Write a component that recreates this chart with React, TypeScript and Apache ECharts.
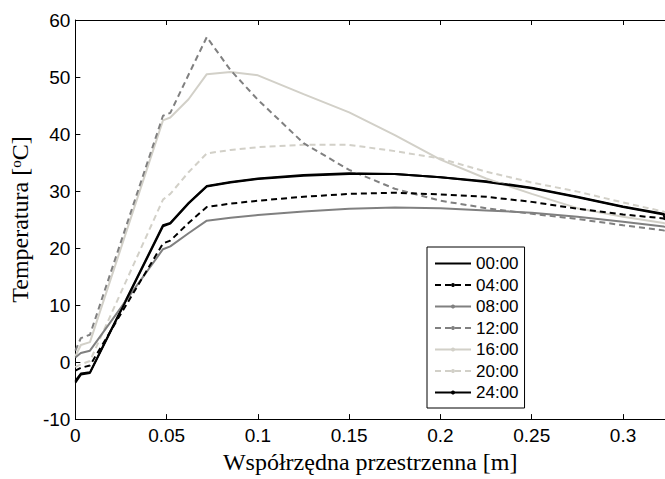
import React, { useEffect, useRef } from "react";
import * as echarts from "echarts";

const xValues = [0, 0.003, 0.008, 0.048, 0.052, 0.062, 0.072, 0.085, 0.1, 0.125, 0.15, 0.175, 0.2, 0.225, 0.25, 0.275, 0.3, 0.3222, 0.323];

const t0000 = [-3.6, -2.2, -1.9, 23.8, 24.3, 27.8, 30.8, 31.5, 32.1, 32.7, 33.0, 33.0, 32.4, 31.6, 30.5, 28.9, 27.2, 25.9, 25.0];
const t0400 = [-1.5, -1.0, -0.6, 20.8, 21.3, 24.4, 27.2, 27.8, 28.3, 29.0, 29.5, 29.7, 29.4, 29.0, 28.1, 26.9, 25.9, 25.2, 25.0];
const t0800 = [0.8, 1.6, 2.0, 19.8, 20.3, 22.6, 24.8, 25.3, 25.8, 26.4, 26.9, 27.1, 27.0, 26.6, 26.2, 25.5, 24.6, 23.8, 23.7];
const t1200 = [2.0, 4.2, 4.8, 43.2, 43.7, 50.4, 57.0, 51.2, 46.0, 38.4, 33.7, 30.4, 28.3, 27.0, 26.0, 25.1, 24.0, 23.1, 23.0];
const t1600 = [1.0, 3.0, 3.5, 42.4, 42.9, 46.1, 50.5, 50.9, 50.3, 47.0, 43.8, 39.8, 35.5, 32.2, 29.5, 27.0, 25.5, 24.4, 24.3];
const t2000 = [-0.9, -0.4, 0.2, 28.5, 29.5, 33.3, 36.6, 37.2, 37.7, 38.1, 38.1, 37.0, 35.7, 33.4, 31.5, 29.9, 28.0, 26.4, 26.3];
const t2400 = [-3.3, -2.0, -1.8, 24.0, 24.4, 27.9, 30.9, 31.6, 32.2, 32.8, 33.1, 33.0, 32.4, 31.7, 30.6, 29.0, 27.3, 26.0, 25.8];

const seriesNames = ["00:00", "04:00", "08:00", "12:00", "16:00", "20:00", "24:00"];
const xTicks = { min: 0, max: 0.323, interval: 0.05 };
const yTicks = { min: -10, max: 60, interval: 10 };

const BLACK = "#000000";
const GRAY = "#808080";
const LIGHT = "#d2d0c8";

export default function App() {
  const ref = useRef<HTMLDivElement>(null);

  useEffect(() => {
    document.body.style.margin = "0";
    if (!ref.current) return;
    const chart = echarts.init(ref.current, null, { renderer: "svg" });

    const styles = [
      { color: BLACK, type: "solid", symbol: "circle" },
      { color: BLACK, type: [6, 4], symbol: "circle" },
      { color: GRAY, type: "solid", symbol: "circle" },
      { color: GRAY, type: [6, 4], symbol: "circle" },
      { color: LIGHT, type: "solid", symbol: "circle" },
      { color: LIGHT, type: [6, 4], symbol: "circle" },
      { color: BLACK, type: "solid", symbol: "circle" },
    ];
    const values = [t0000, t0400, t0800, t1200, t1600, t2000, t2400];

    const series = seriesNames.map((name, i) => ({
      name,
      type: "line",
      data: xValues.map((x, j) => [x, values[i][j]]),
      symbol: styles[i].symbol,
      symbolSize: 4,
      showSymbol: false,
      itemStyle: { color: styles[i].color },
      lineStyle: { color: styles[i].color, width: 2, type: styles[i].type },
      z: 10 - i,
    }));

    const tickLabel = { color: "#000", fontSize: 19, fontFamily: "Liberation Sans" };
    const nameStyle = { color: "#000", fontSize: 24, fontFamily: "Liberation Serif" };

    const legendData = seriesNames.map((name, i) =>
      i === 0 ? { name, itemStyle: { color: "rgba(0,0,0,0)", borderWidth: 0 } } : { name }
    );

    chart.setOption({
      animation: false,
      grid: { left: 70, top: 20, right: 0, bottom: 57 },
      legend: {
        orient: "vertical",
        left: 427,
        top: 247,
        data: legendData,
        itemWidth: 36,
        itemHeight: 5,
        itemGap: 4.5,
        padding: [8, 6, 7, 7],
        borderColor: "#000",
        borderWidth: 1,
        backgroundColor: "#fff",
        textStyle: { color: "#000", fontSize: 17, fontFamily: "Liberation Sans" },
      },
      xAxis: [
        {
          type: "value",
          ...xTicks,
          name: "Współrzędna przestrzenna [m]",
          nameLocation: "middle",
          nameGap: 29,
          nameTextStyle: nameStyle,
          axisLine: { show: true, onZero: false, lineStyle: { color: "#000", width: 1 } },
          axisTick: { show: true, inside: true, length: 5, lineStyle: { color: "#000" } },
          axisLabel: { ...tickLabel, margin: 7, showMaxLabel: false },
          splitLine: { show: false },
        },
        {
          type: "value",
          position: "top",
          ...xTicks,
          axisLine: { show: true, onZero: false, lineStyle: { color: "#000", width: 1 } },
          axisTick: { show: true, inside: true, length: 5, lineStyle: { color: "#000" } },
          axisLabel: { show: false },
          splitLine: { show: false },
        },
      ],
      yAxis: [
        {
          type: "value",
          ...yTicks,
          name: "Temperatura [{sup|o}C]",
          nameLocation: "middle",
          nameGap: 40,
          nameTextStyle: {
            ...nameStyle,
            rich: {
              sup: { fontSize: 15, fontFamily: "Liberation Serif", color: "#000", verticalAlign: "top", padding: [0, 0, 9, 0] },
            },
          },
          axisLine: { show: true, onZero: false, lineStyle: { color: "#000", width: 1 } },
          axisTick: { show: true, inside: true, length: 5, lineStyle: { color: "#000" } },
          axisLabel: { ...tickLabel, margin: 5 },
          splitLine: { show: false },
        },
      ],
      series,
    });

    return () => chart.dispose();
  }, []);

  return <div ref={ref} style={{ width: 665, height: 479 }} />;
}
